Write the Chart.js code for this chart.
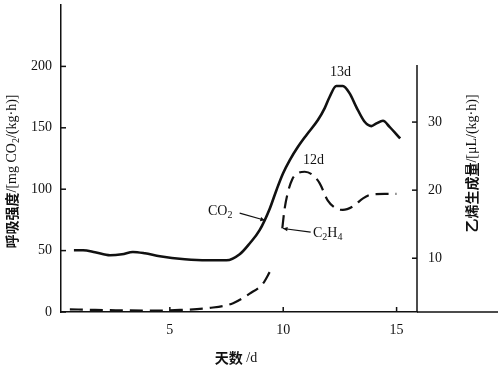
<!DOCTYPE html>
<html><head><meta charset="utf-8">
<script src="https://cdn.jsdelivr.net/npm/chart.js@4/dist/chart.umd.min.js"></script>
<style>html,body{margin:0;padding:0;background:#fff}</style>
</head><body>
<canvas id="c" width="500" height="366"></canvas>
<script>
// ---- data ----
const DAYS_CO2 = [0.77,1.17,1.70,2.36,2.89,3.37,3.90,4.56,5.66,6.63,7.50,8.08,8.52,8.96,9.41,9.70,9.99,10.29,10.65,11.02,11.53,11.83,12.05,12.34,12.63,12.93,13.22,13.59,13.89,14.11,14.40,14.69,15.16];
const CO2      = [50.3,50.3,48.7,46.2,47.0,48.9,47.8,45.4,43.0,42.1,42.1,47.0,55.8,66.6,84.3,99.2,112.8,123.7,134.5,144.0,156.3,166.0,175.3,184.0,184.0,178.0,167.1,154.9,151.4,153.6,155.7,150.8,141.3];
const DAYS_C2H4 = [0.59,1.70,2.67,4.12,5.44,6.76,7.79,8.52,9.11,9.41,9.70,9.96,10.05,10.20,10.40,10.60,10.95,11.31,11.61,11.96,12.34,12.63,13.07,13.52,13.96,14.47,14.99];
const C2H4      = [2.5,2.4,2.35,2.3,2.4,2.7,3.4,4.8,6.3,8.0,null,14.4,17.0,19.6,21.6,22.4,22.7,22.2,21.0,18.5,17.3,17.1,17.6,18.8,19.4,19.45,19.45];
const X_TICKS = [5,10,15];
const LEFT_TICKS = [0,50,100,150,200];
const RIGHT_TICKS = [10,20,30];

// ---- axis extents ----
const X_MIN = 0.2, X_MAX = 15.9;
const LEFT_MIN = 0, LEFT_MAX = 250;
const RIGHT_MIN = 2.1, RIGHT_MAX = 47.2, RIGHT_AXIS_TOP = 38.4;

const INK = '#111';
const SERIF = "'Liberation Serif','Times New Roman',serif";
const CJK = "'Noto Sans CJK SC',sans-serif";

function pts(xs, ys){ return xs.map((x,i)=>({x, y: ys[i]})); }
function noPad(s){ s.paddingTop = 0; s.paddingBottom = 0; s.paddingLeft = 0; s.paddingRight = 0; }

function drawRuns(ctx, runs, cx, cy, rot){
  ctx.save();
  ctx.translate(cx, cy);
  ctx.rotate(rot||0);
  ctx.textBaseline = 'middle';
  ctx.textAlign = 'left';
  let w = 0;
  runs.forEach(r => { ctx.font = r.f; w += ctx.measureText(r.t).width; });
  let x = -w/2;
  runs.forEach(r => { ctx.font = r.f; ctx.fillText(r.t, x, r.dy||0); x += ctx.measureText(r.t).width; });
  ctx.restore();
}
function arrow(ctx, x0, y0, x1, y1){
  ctx.beginPath(); ctx.moveTo(x0,y0); ctx.lineTo(x1,y1); ctx.stroke();
  const a = Math.atan2(y1-y0, x1-x0), L = 5;
  ctx.beginPath();
  ctx.moveTo(x1,y1);
  ctx.lineTo(x1 - L*Math.cos(a-0.45), y1 - L*Math.sin(a-0.45));
  ctx.lineTo(x1 - L*Math.cos(a+0.45), y1 - L*Math.sin(a+0.45));
  ctx.closePath(); ctx.fill();
}

const F14 = '14px ' + SERIF, F10 = '10px ' + SERIF, FC = 'bold 14px ' + CJK;

const decor = {
  id: 'decor',
  afterDraw(chart){
    const {ctx, chartArea: ca, scales} = chart;
    const x = scales.x, y = scales.y, y1 = scales.y1;
    ctx.save();
    ctx.strokeStyle = INK; ctx.fillStyle = INK; ctx.lineWidth = 1.5;
    const seg = (a,b,c,d)=>{ ctx.beginPath(); ctx.moveTo(a,b); ctx.lineTo(c,d); ctx.stroke(); };
    // right axis line (shorter than plot) and x-axis extension
    seg(ca.right, y1.getPixelForValue(RIGHT_AXIS_TOP), ca.right, ca.bottom);
    seg(ca.right, ca.bottom, chart.width - 2, ca.bottom);
    // inward tick marks
    LEFT_TICKS.forEach(v=>{ const p=y.getPixelForValue(v); seg(ca.left, p, ca.left+5, p); });
    RIGHT_TICKS.forEach(v=>{ const p=y1.getPixelForValue(v); seg(ca.right-5, p, ca.right, p); });
    X_TICKS.forEach(v=>{ const p=x.getPixelForValue(v); seg(p, ca.bottom, p, ca.bottom-5); });

    // annotations
    const P = (d,v)=>[x.getPixelForValue(d), y.getPixelForValue(v)];
    ctx.lineWidth = 1.2;
    let a = P(8.08,80.5), b = P(9.19,74.7); arrow(ctx, a[0],a[1], b[0],b[1]);
    a = P(11.21,65.0); b = P(9.99,68.0); arrow(ctx, a[0],a[1], b[0],b[1]);
    ctx.fillStyle = INK;
    let c = P(7.22,82.1);
    drawRuns(ctx,[{t:'CO',f:F14},{t:'2',f:F10,dy:4}], c[0], c[1], 0);
    c = P(11.96,64.2);
    drawRuns(ctx,[{t:'C',f:F14},{t:'2',f:F10,dy:4},{t:'H',f:F14},{t:'4',f:F10,dy:4}], c[0], c[1], 0);
    c = P(12.53,195.4);
    drawRuns(ctx,[{t:'13d',f:F14}], c[0], c[1], 0);
    c = P(11.34,123.7);
    drawRuns(ctx,[{t:'12d',f:F14}], c[0], c[1], 0);

    // axis titles
    drawRuns(ctx,[{t:'呼吸强度',f:FC},{t:'/[mg CO',f:F14},{t:'2',f:F10,dy:4},{t:'/(kg·h)]',f:F14}], 12, (ca.top+ca.bottom)/2 + 13, -Math.PI/2);
    drawRuns(ctx,[{t:'乙烯生成量',f:FC},{t:'/[μL/(kg·h)]',f:F14}], chart.width - 28, (ca.top+ca.bottom)/2 + 5, -Math.PI/2);
    drawRuns(ctx,[{t:'天数',f:FC},{t:' /d',f:F14}], (ca.left+ca.right)/2 - 3, chart.height - 8, 0);
    ctx.restore();
  }
};

new Chart(document.getElementById('c'), {
  type: 'line',
  data: {
    datasets: [
      { label: 'CO2', data: pts(DAYS_CO2, CO2), yAxisID: 'y', borderColor: INK, borderWidth: 2.6,
        pointRadius: 0, cubicInterpolationMode: 'monotone', fill: false },
      { label: 'C2H4', data: pts(DAYS_C2H4, C2H4), yAxisID: 'y1', borderColor: INK, borderWidth: 2.2,
        borderDash: [13,7], pointRadius: 0, cubicInterpolationMode: 'monotone', spanGaps: false, fill: false }
    ]
  },
  options: {
    responsive: false, animation: false, devicePixelRatio: 1,
    layout: { padding: { top: 5, left: 0, right: 0, bottom: 0 } },
    plugins: { legend: { display: false }, tooltip: { enabled: false } },
    scales: {
      x: {
        type: 'linear', min: X_MIN, max: X_MAX,
        afterBuildTicks: s => { s.ticks = X_TICKS.map(v=>({value:v})); },
        afterFit: s => { s.height = 54; noPad(s); },
        grid: { display: true, drawOnChartArea: false, drawTicks: false },
        border: { display: true, color: INK, width: 1.5 },
        ticks: { color: INK, padding: 10, font: { family: SERIF, size: 14 } }
      },
      y: {
        type: 'linear', position: 'left', min: LEFT_MIN, max: LEFT_MAX,
        afterBuildTicks: s => { s.ticks = LEFT_TICKS.map(v=>({value:v})); },
        afterFit: s => { s.width = 61; noPad(s); },
        grid: { display: true, drawOnChartArea: false, drawTicks: false },
        border: { display: true, color: INK, width: 1.5 },
        ticks: { color: INK, padding: 9, font: { family: SERIF, size: 14 } }
      },
      y1: {
        type: 'linear', position: 'right', min: RIGHT_MIN, max: RIGHT_MAX,
        afterBuildTicks: s => { s.ticks = RIGHT_TICKS.map(v=>({value:v})); },
        afterFit: s => { s.width = 83; noPad(s); },
        grid: { display: true, drawOnChartArea: false, drawTicks: false },
        border: { display: false },
        ticks: { color: INK, padding: 11, font: { family: SERIF, size: 14 } }
      }
    }
  },
  plugins: [decor]
});
</script>
</body></html>
